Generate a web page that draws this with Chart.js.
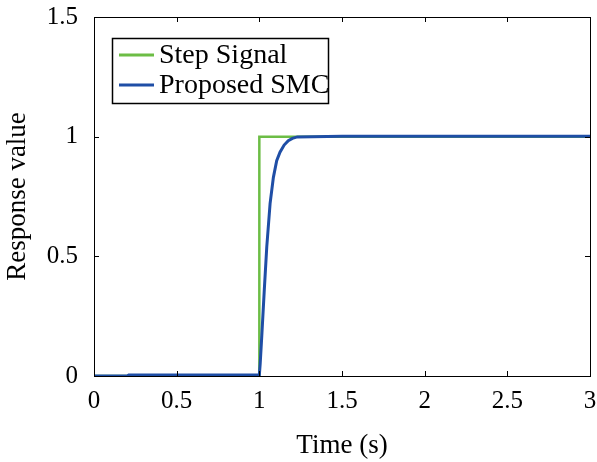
<!DOCTYPE html>
<html>
<head>
<meta charset="utf-8">
<script src="https://cdn.jsdelivr.net/npm/chart.js@4/dist/chart.umd.min.js"></script>
<style>
  html, body { margin: 0; padding: 0; background: #fff; }
</style>
</head>
<body>
<canvas id="myChart" width="597" height="462"></canvas>
<script>
// step reference signal
const stepTime = [0, 1, 1, 3];
const stepValue = [0, 0, 1, 1];

// response of the proposed SMC
const smcTime = [0, 0.2, 0.21, 1.0, 1.005, 1.015, 1.03, 1.045, 1.065, 1.085, 1.105, 1.125, 1.15, 1.175, 1.2, 1.23, 1.5, 2, 2.5, 3];
const smcValue = [0, 0, 0.004, 0.004, 0.05, 0.17, 0.36, 0.54, 0.72, 0.83, 0.9, 0.935, 0.965, 0.983, 0.993, 0.999, 1.002, 1.002, 1.002, 1.002];

const xTicks = [0, 0.5, 1, 1.5, 2, 2.5, 3];
const yTicks = [0, 0.5, 1, 1.5];

const serif = "'Liberation Serif', 'Times New Roman', serif";

const toPoints = (xs, ys) => xs.map((x, i) => ({ x: x, y: ys[i] }));

// box frame with inward ticks on all four sides
const framePlugin = {
  id: "frame",
  afterDraw(chart) {
    const { ctx, chartArea: a, scales } = chart;
    ctx.save();
    ctx.strokeStyle = "#000";
    ctx.lineWidth = 1;
    ctx.strokeRect(a.left + 0.5, a.top + 0.5, a.right - a.left, a.bottom - a.top);
    ctx.beginPath();
    xTicks.forEach((v) => {
      const px = Math.round(scales.x.getPixelForValue(v)) + 0.5;
      ctx.moveTo(px, a.bottom);
      ctx.lineTo(px, a.bottom - 5);
      ctx.moveTo(px, a.top);
      ctx.lineTo(px, a.top + 5);
    });
    yTicks.forEach((v) => {
      const py = Math.round(scales.y.getPixelForValue(v)) + 0.5;
      ctx.moveTo(a.left, py);
      ctx.lineTo(a.left + 5, py);
      ctx.moveTo(a.right, py);
      ctx.lineTo(a.right - 5, py);
    });
    ctx.stroke();
    ctx.restore();
  },
};

// legend with a black box in the upper left
const legendPlugin = {
  id: "boxLegend",
  afterDraw(chart) {
    const { ctx } = chart;
    const left = 112, top = 38, w = 216, h = 65;
    ctx.save();
    ctx.fillStyle = "#fff";
    ctx.fillRect(left, top, w, h);
    ctx.strokeStyle = "#000";
    ctx.lineWidth = 1.5;
    ctx.strokeRect(left + 0.5, top + 0.5, w, h);
    ctx.font = "28px " + serif;
    ctx.textBaseline = "middle";
    chart.data.datasets.forEach((ds, i) => {
      const y = 55 + i * 30;
      ctx.strokeStyle = ds.borderColor;
      ctx.lineWidth = 3;
      ctx.beginPath();
      ctx.moveTo(119, y);
      ctx.lineTo(154, y);
      ctx.stroke();
      ctx.fillStyle = "#000";
      ctx.fillText(ds.label, 159, y + 1);
    });
    ctx.restore();
  },
};

new Chart(document.getElementById("myChart"), {
  type: "line",
  data: {
    datasets: [
      {
        label: "Step Signal",
        data: toPoints(stepTime, stepValue),
        borderColor: "#6cbd45",
        borderWidth: 2.5,
        pointRadius: 0,
        tension: 0,
        order: 2,
      },
      {
        label: "Proposed SMC",
        data: toPoints(smcTime, smcValue),
        borderColor: "#1f4ea6",
        borderWidth: 3,
        pointRadius: 0,
        tension: 0,
        order: 1,
      },
    ],
  },
  options: {
    responsive: false,
    animation: false,
    layout: { padding: { top: 17, right: 7, left: 0, bottom: 0 } },
    plugins: {
      legend: { display: false },
      tooltip: { enabled: false },
    },
    scales: {
      x: {
        type: "linear",
        min: 0,
        max: 3,
        afterBuildTicks: (s) => { s.ticks = xTicks.map((v) => ({ value: v })); },
        afterFit: (s) => { s.height = 86; s.paddingLeft = 0; s.paddingRight = 0; },
        grid: { display: false },
        border: { display: false },
        ticks: {
          color: "#000",
          font: { family: serif, size: 25 },
          padding: 2,
          maxRotation: 0,
          callback: (v) => String(v),
        },
        title: {
          display: true,
          text: "Time (s)",
          color: "#000",
          font: { family: serif, size: 27 },
          padding: { top: 8, bottom: 0 },
        },
      },
      y: {
        min: 0,
        max: 1.5,
        afterBuildTicks: (s) => { s.ticks = yTicks.map((v) => ({ value: v })); },
        afterFit: (s) => { s.width = 94; s.paddingTop = 0; s.paddingBottom = 0; },
        grid: { display: false },
        border: { display: false },
        ticks: {
          color: "#000",
          font: { family: serif, size: 25 },
          padding: 8,
          callback: (v) => String(v),
        },
        title: {
          display: true,
          text: "Response value",
          color: "#000",
          font: { family: serif, size: 27 },
          padding: { top: 2, bottom: 4 },
        },
      },
    },
  },
  plugins: [framePlugin, legendPlugin],
});
</script>
</body>
</html>
